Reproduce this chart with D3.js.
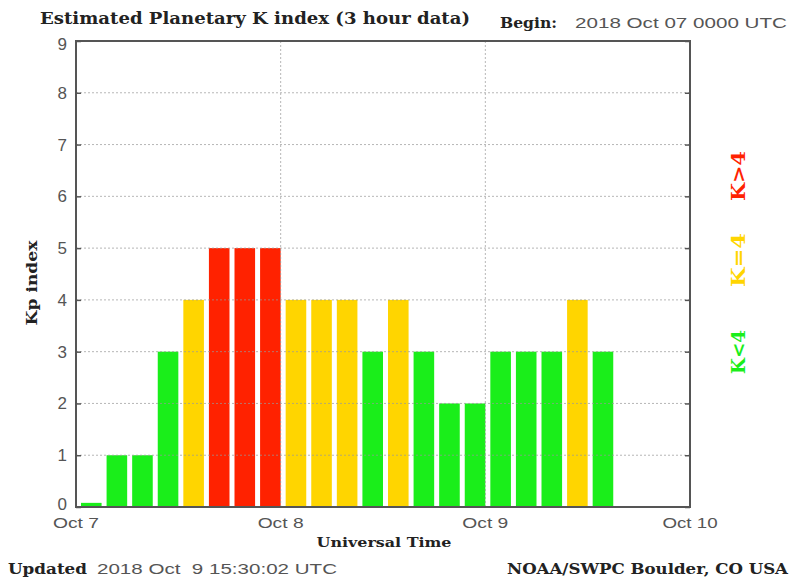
<!DOCTYPE html>
<html>
<head>
<meta charset="utf-8">
<script src="https://cdn.jsdelivr.net/npm/d3@7/dist/d3.min.js"></script>
<style>
  body { margin: 0; background: #fff; }
  .serif { font-family: "DejaVu Serif", "Liberation Serif", serif; font-weight: bold; fill: #222; }
  .sans { font-family: "Liberation Sans", Arial, sans-serif; fill: #555; }
</style>
</head>
<body>
<svg width="791" height="579"></svg>
<script>
// Kp values, one per 3 hour slot starting 2018 Oct 07 0000 UTC
var kpValues = [0, 1, 1, 3, 4, 5, 5, 5,
                4, 4, 4, 3, 4, 3, 2, 2,
                3, 3, 3, 4, 3];
var dayLabels = ["Oct 7", "Oct 8", "Oct 9", "Oct 10"];
var yTicks = [0, 1, 2, 3, 4, 5, 6, 7, 8, 9];

var plotLeft = 76, plotRight = 690, plotTop = 41, plotBottom = 507;

var svg = d3.select("svg");

// hours since start
var x = d3.scaleLinear().domain([0, 72]).range([plotLeft, plotRight]);
var y = d3.scaleLinear().domain([0, 9]).range([plotBottom, plotTop]);

function barColor(d) {
    if (d > 4) return "#ff2200";
    if (d == 4) return "#ffd500";
    return "#1aee1a";
}

var slot = x(3) - x(0);

// bars
svg.append("g").selectAll("rect")
    .data(kpValues)
    .enter().append("rect")
    .attr("x", function(d, i) { return x(i * 3) + 5; })
    .attr("width", slot - 5)
    .attr("y", function(d) { return y(Math.max(d, 0.08)); })
    .attr("height", function(d) { return plotBottom - y(Math.max(d, 0.08)); })
    .attr("fill", barColor);

// dotted grid, drawn over the bars
var grid = svg.append("g")
    .attr("stroke", "#999")
    .attr("stroke-width", 1)
    .attr("stroke-dasharray", "2,2")
    .attr("opacity", 0.7);
grid.selectAll("line.h")
    .data(yTicks.slice(1, -1))
    .enter().append("line")
    .attr("x1", plotLeft).attr("x2", plotRight)
    .attr("y1", function(d) { return y(d); })
    .attr("y2", function(d) { return y(d); });
grid.selectAll("line.v")
    .data([24, 48])
    .enter().append("line")
    .attr("y1", plotTop).attr("y2", plotBottom)
    .attr("x1", function(d) { return x(d); })
    .attr("x2", function(d) { return x(d); });

// frame
svg.append("rect")
    .attr("x", plotLeft).attr("y", plotTop)
    .attr("width", plotRight - plotLeft).attr("height", plotBottom - plotTop)
    .attr("fill", "none")
    .attr("stroke", "#555")
    .attr("stroke-width", 2);

// y axes, ticks inside
function styleTicks(g) {
    g.select(".domain").remove();
    g.selectAll("line").attr("stroke", "#555").attr("stroke-width", 1.5);
}
svg.append("g").attr("transform", "translate(" + plotLeft + ",0)")
    .call(d3.axisRight(y).tickValues(yTicks).tickSize(5).tickFormat(""))
    .call(styleTicks);
svg.append("g").attr("transform", "translate(" + plotRight + ",0)")
    .call(d3.axisLeft(y).tickValues(yTicks).tickSize(5).tickFormat(""))
    .call(styleTicks);

// y tick labels
svg.append("g").selectAll("text")
    .data(yTicks)
    .enter().append("text")
    .attr("class", "sans")
    .attr("x", plotLeft - 9)
    .attr("y", function(d) { return y(d) + 6 - (d == 0 ? 3 : 0) + (d == 9 ? 3 : 0); })
    .attr("text-anchor", "end")
    .style("font-size", "17px")
    .text(function(d) { return d; });

// x tick labels
svg.append("g").selectAll("text")
    .data(dayLabels)
    .enter().append("text")
    .attr("class", "sans")
    .attr("x", function(d, i) { return x(i * 24); })
    .attr("y", 528)
    .attr("text-anchor", "middle")
    .style("font-size", "15px")
    .text(function(d) { return d; })
    .attr("textLength", function(d) { return d.length * 9.2; })
    .attr("lengthAdjust", "spacingAndGlyphs");

function stretchText(cls, tx, ty, size, len, str, anchor) {
    return svg.append("text").attr("class", cls)
        .attr("x", tx).attr("y", ty)
        .attr("text-anchor", anchor || "start")
        .style("font-size", size + "px")
        .attr("textLength", len)
        .attr("lengthAdjust", "spacingAndGlyphs")
        .text(str);
}

// titles
stretchText("serif", 40, 24, 16, 430, "Estimated Planetary K index (3 hour data)");
stretchText("serif", 500, 28, 14, 57, "Begin:");
stretchText("sans", 575, 28, 15, 212, "2018 Oct 07 0000 UTC");

svg.append("text").attr("class", "serif")
    .attr("transform", "translate(37,283) rotate(-90)")
    .attr("text-anchor", "middle")
    .style("font-size", "15px")
    .attr("textLength", 85)
    .attr("lengthAdjust", "spacingAndGlyphs")
    .text("Kp index");

stretchText("serif", 384, 547, 13, 135, "Universal Time", "middle");

stretchText("serif", 8, 574, 15, 79, "Updated");
stretchText("sans", 97, 574, 15, 240, "2018 Oct  9 15:30:02 UTC").attr("xml:space", "preserve");
stretchText("serif", 507, 574, 15, 281, "NOAA/SWPC Boulder, CO USA");

// colour key on the right
var keys = [
    { label: "K>4", color: "#ff2200", cy: 176, len: 50 },
    { label: "K=4", color: "#ffd500", cy: 260, len: 54 },
    { label: "K<4", color: "#1aee1a", cy: 352, len: 44 }
];
svg.append("g").selectAll("text")
    .data(keys)
    .enter().append("text")
    .attr("class", "serif")
    .attr("transform", function(d) { return "translate(745," + d.cy + ") rotate(-90)"; })
    .attr("text-anchor", "middle")
    .style("font-size", "19px")
    .style("fill", function(d) { return d.color; })
    .attr("textLength", function(d) { return d.len; })
    .attr("lengthAdjust", "spacingAndGlyphs")
    .text(function(d) { return d.label; });
</script>
</body>
</html>
